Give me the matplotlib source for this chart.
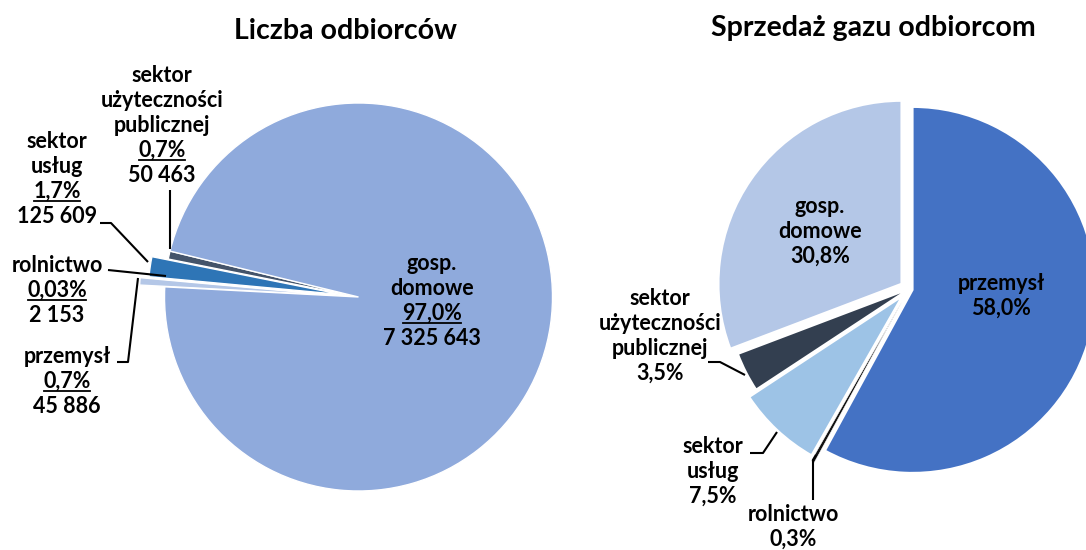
import matplotlib
matplotlib.use("Agg")
import matplotlib.pyplot as plt

# ---------------- data ----------------
left_title = "Liczba odbiorców"
left_names = ["przemysł", "rolnictwo", "sektor\nusług", "sektor\nużyteczności\npublicznej", "gosp.\ndomowe"]
left_counts = [45886, 2153, 125609, 50463, 7325643]
left_pct = ["0,7%", "0,03%", "1,7%", "0,7%", "97,0%"]

right_title = "Sprzedaż gazu odbiorcom"
right_names = ["przemysł", "rolnictwo", "sektor\nusług", "sektor\nużyteczności\npublicznej", "gosp.\ndomowe"]
right_values = [58.0, 0.3, 7.5, 3.5, 30.8]
right_pct = ["58,0%", "0,3%", "7,5%", "3,5%", "30,8%"]

# ---------------- style ----------------
left_colors = ["#B4C7E7", "#FFD966", "#2E75B6", "#44546A", "#8FAADC"]
right_colors = ["#4472C4", "#111111", "#9DC3E6", "#333F50", "#B4C7E7"]
L_R, R_R = 194, 183
left_explode_frac = [0.13, 0.10, 0.085, 0.0, 0.0]
right_explode_frac = [0.02, 0.08, 0.055, 0.0, 0.05]

W, H = 1086, 550
FONT = "Lato"
FS = 15.5
LS = 25  # line spacing in px

fig = plt.figure(figsize=(W / 100, H / 100), dpi=100)
ax = fig.add_axes([0, 0, 1, 1])

def Y(y):  # image y -> data y
    return H - y

ax.pie(left_counts, colors=left_colors, startangle=177, counterclock=False,
       explode=[e * L_R for e in left_explode_frac], radius=L_R,
       center=(358.5, Y(297)),
       wedgeprops=dict(edgecolor="white", linewidth=1.0), frame=True)
rw, _ = ax.pie(right_values, colors=right_colors, startangle=90, counterclock=False,
               explode=[e * R_R for e in right_explode_frac], radius=R_R,
               center=(909, Y(289)),
               wedgeprops=dict(edgecolor="white", linewidth=1.5), frame=True)
rw[1].set_linewidth(0.4)

ax.set_xlim(0, W)
ax.set_ylim(0, H)
ax.set_aspect("equal")
ax.axis("off")

ax.text(346, Y(39), left_title, ha="center", va="baseline", fontsize=20.5,
        fontweight="bold", family=FONT)
ax.text(873, Y(36), right_title, ha="center", va="baseline", fontsize=20.5,
        fontweight="bold", family=FONT)

underlined = []

def label(lines, cx, base0, ul_index=None):
    for i, ln in enumerate(lines):
        t = ax.text(cx, Y(base0 + i * LS), ln, ha="center", va="baseline",
                    fontsize=FS, fontweight="bold", family=FONT, color="black")
        if ul_index is not None and i == ul_index:
            underlined.append(t)

def fmt(n):
    return f"{n:,}".replace(",", " ")

# left labels: (center x, first baseline)
left_pos = [(67, 363), (57, 272), (57, 148), (162, 82), (432, 270)]
for name, cnt, pct, (cx, b) in zip(left_names, left_counts, left_pct, left_pos):
    nl = name.split("\n")
    label(nl + [pct, fmt(cnt)], cx, b, ul_index=len(nl))

right_pos = [(1001, 290), (793, 521), (713, 453), (660, 305), (820, 213)]
for name, pct, (cx, b) in zip(right_names, right_pct, right_pos):
    nl = name.split("\n")
    label(nl + [pct], cx, b)

# leader lines (image coords)
leaders = [
    [(170, 190), (170, 249)],
    [(100, 223), (111, 223), (148, 262)],
    [(108, 270), (166, 276)],
    [(117, 362), (128, 362), (138, 278)],
    [(708, 362), (720, 362), (745, 375)],
    [(750, 453), (763, 453), (777, 432)],
    [(813, 500), (813, 460), (816, 455)],
]
for pts in leaders:
    xs = [p[0] for p in pts]
    ys = [Y(p[1]) for p in pts]
    ax.plot(xs, ys, color="black", lw=1.5, solid_capstyle="butt")

fig.canvas.draw()
r = fig.canvas.get_renderer()
for t in underlined:
    bb = t.get_window_extent(r)
    y = t.get_position()[1] - 3
    ax.plot([bb.x0 + 1, bb.x1 - 1], [y, y], color="black", lw=1.3)

fig.savefig("out.png", dpi=100)
